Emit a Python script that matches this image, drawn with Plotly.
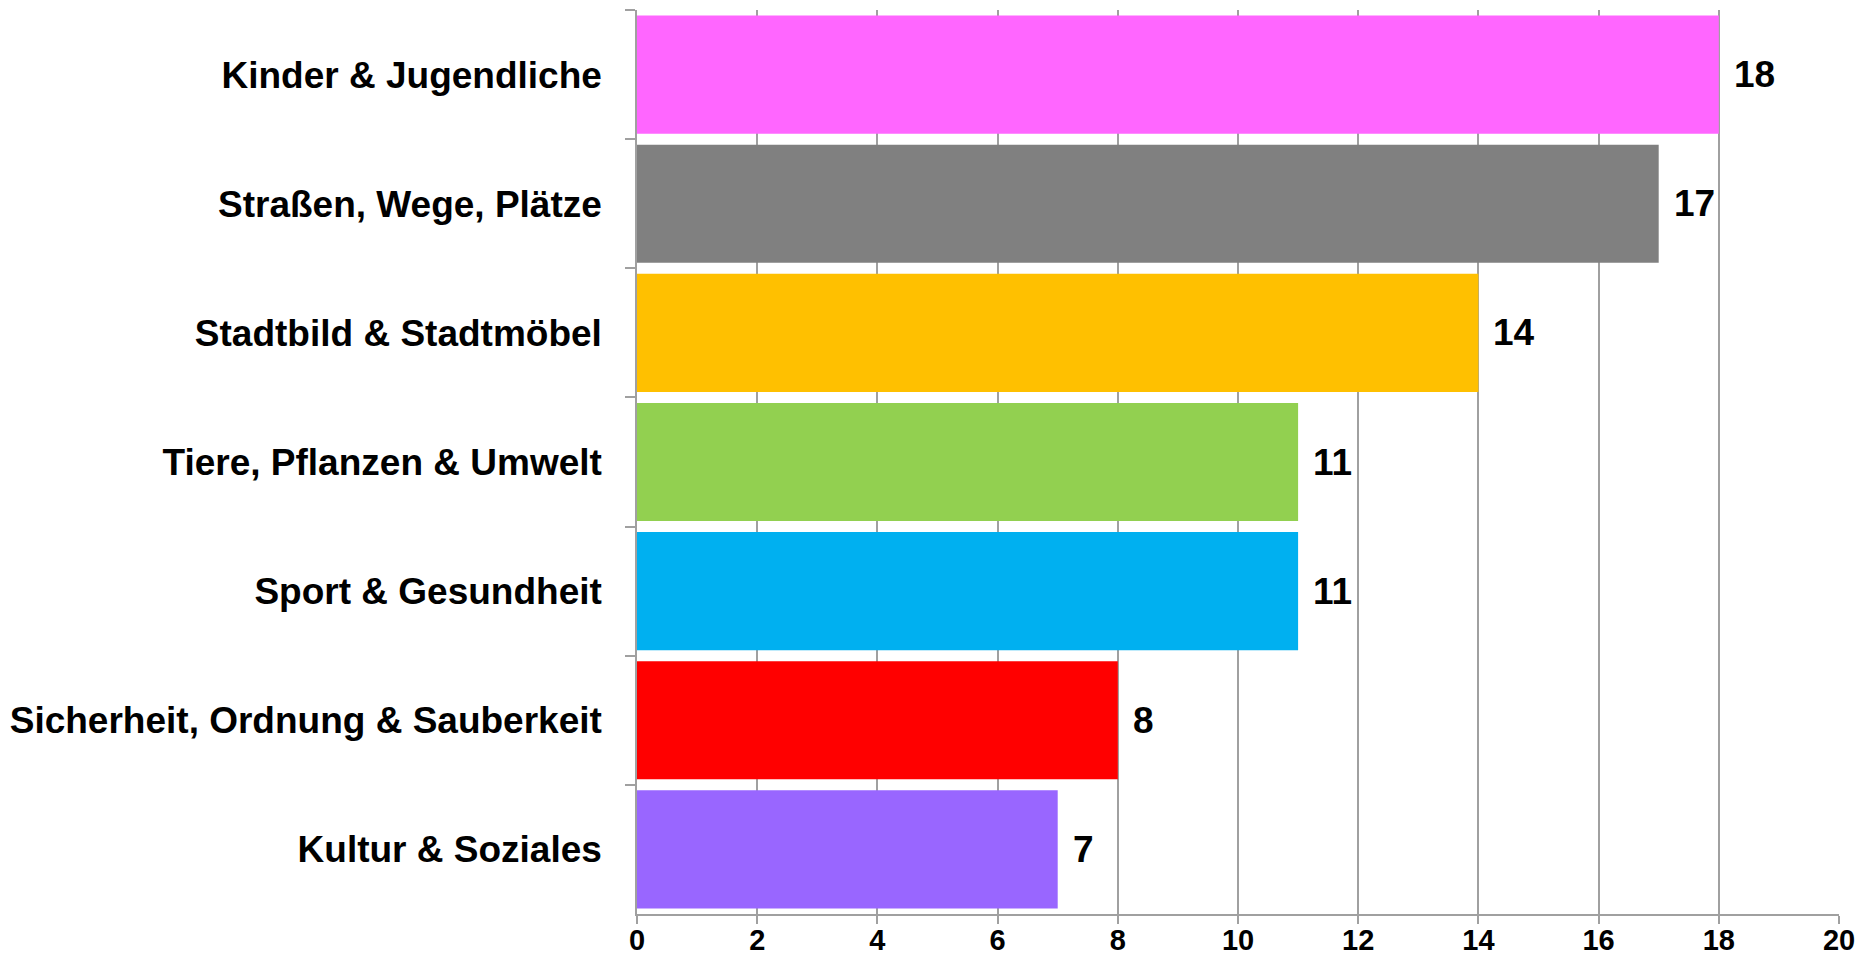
import plotly.graph_objects as go

categories = [
    "Kinder & Jugendliche",
    "Straßen, Wege, Plätze",
    "Stadtbild & Stadtmöbel",
    "Tiere, Pflanzen & Umwelt",
    "Sport & Gesundheit",
    "Sicherheit, Ordnung & Sauberkeit",
    "Kultur & Soziales",
]
values = [18, 17, 14, 11, 11, 8, 7]
colors = ["#FF66FF", "#808080", "#FFC000", "#92D050", "#00B0F0", "#FF0000", "#9966FF"]
x_ticks = [0, 2, 4, 6, 8, 10, 12, 14, 16, 18, 20]

FONT = "Liberation Sans, Arial, sans-serif"
GRID = "#A0A0A0"

fig = go.Figure(
    go.Bar(
        y=categories,
        x=values,
        orientation="h",
        marker=dict(color=colors, line=dict(width=0)),
        hoverinfo="x+y",
    )
)

for cat, val in zip(categories, values):
    fig.add_annotation(
        x=val,
        y=cat,
        text=str(val),
        showarrow=False,
        xanchor="left",
        yanchor="middle",
        xshift=13,
        font=dict(family=FONT, size=37, color="black", weight="bold"),
    )

# the page body has an 8px margin; size the figure so it fills the window
fig.update_layout(
    width=1854,
    height=951,
    margin=dict(l=629, r=23, t=2, b=45, autoexpand=False),
    paper_bgcolor="white",
    plot_bgcolor="white",
    bargap=0.085,
    showlegend=False,
)

fig.update_xaxes(
    range=[0, 20],
    tickvals=x_ticks,
    ticktext=[str(t) for t in x_ticks],
    showgrid=True,
    gridcolor=GRID,
    gridwidth=1.5,
    showline=True,
    linecolor=GRID,
    linewidth=1.5,
    ticks="outside",
    ticklen=8,
    tickwidth=1.5,
    tickcolor=GRID,
    ticklabelstandoff=-9,
    tickfont=dict(family=FONT, size=29, color="black", weight="bold"),
    zeroline=False,
    automargin=False,
    fixedrange=True,
)

fig.update_yaxes(
    categoryorder="array",
    categoryarray=categories,
    autorange="reversed",
    showgrid=False,
    showline=True,
    linecolor=GRID,
    linewidth=1.5,
    ticks="outside",
    tickson="boundaries",
    ticklen=10,
    tickwidth=1.5,
    tickcolor=GRID,
    ticklabelstandoff=26,
    tickfont=dict(family=FONT, size=37, color="black", weight="bold"),
    automargin=False,
    fixedrange=True,
)

fig.write_html("out.html")
